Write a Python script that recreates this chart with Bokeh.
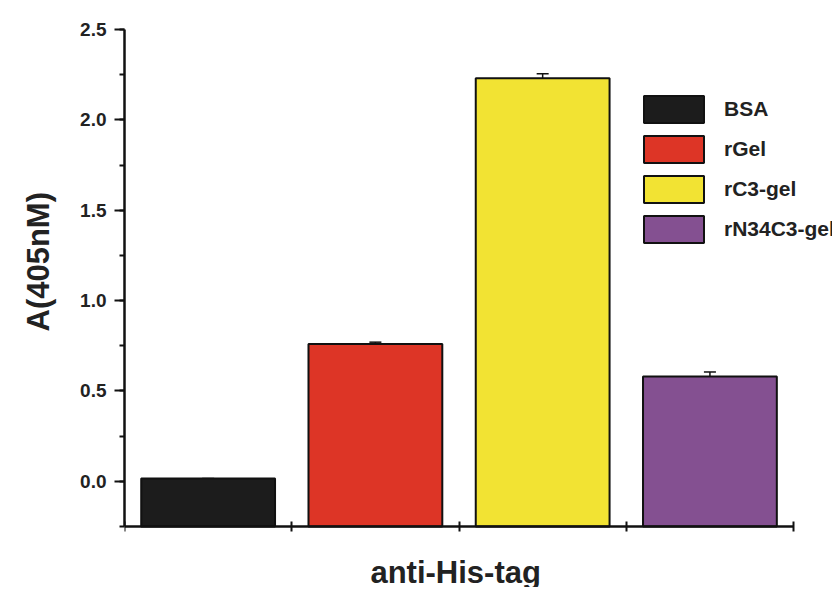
from bokeh.plotting import figure
from bokeh.models import (ColumnDataSource, Range1d, FixedTicker, SingleIntervalTicker,
                          Whisker, TeeHead, Legend, LegendItem, Title, Label,
                          NumeralTickFormatter)
from bokeh.embed import file_html
from bokeh.resources import INLINE

# ---- data ----
categories = ["BSA", "rGel", "rC3-gel", "rN34C3-gel"]
positions = [1, 2, 3, 4]
values = [0.015, 0.76, 2.23, 0.58]
errors = [0.0, 0.01, 0.025, 0.025]
colors = ["#1c1c1c", "#dd3526", "#f2e333", "#845091"]
x_bounds = (0.5, 4.5)
y_bounds = (-0.25, 2.5)
x_label = "anti-His-tag"
y_label = "A(405nM)"

FONT = "Liberation Sans"

src = ColumnDataSource(dict(
    x=positions, top=values,
    upper=[v + e for v, e in zip(values, errors)],
    lower=values,
))

# ---- layout (pixels) ----
W, H = 832, 587
LEFT, TOP = 123, 29
AX_W, AX_BOTTOM = 670, 526          # x axis length, y pixel of the x axis line
px_x = AX_W / (x_bounds[1] - x_bounds[0])
px_y = (AX_BOTTOM - TOP) / (y_bounds[1] - y_bounds[0])
x_end = x_bounds[1] + (W - LEFT - AX_W) / px_x
y_start = y_bounds[0] - (H - AX_BOTTOM) / px_y

p = figure(width=W, height=H, output_backend="svg", toolbar_location=None,
           x_axis_location="above",
           x_range=Range1d(x_bounds[0], x_end), y_range=Range1d(y_start, y_bounds[1]),
           min_border_left=LEFT, min_border_right=0, min_border_top=TOP,
           min_border_bottom=0)
p.outline_line_color = None
p.grid.visible = False
p.background_fill_color = "white"
p.border_fill_color = "white"

renderers = []
for i in range(len(categories)):
    r = p.vbar(x=[positions[i]], top=[values[i]], bottom=y_bounds[0], width=0.8,
               fill_color=colors[i], line_color="#111111", line_width=2)
    renderers.append(r)

wh = Whisker(source=src, base="x", upper="upper", lower="lower",
             line_color="#111111", line_width=1.5,
             upper_head=TeeHead(size=12, line_color="#111111", line_width=1.5),
             lower_head=None)
p.add_layout(wh)

# x axis, drawn at the bottom of the value range
xa = p.xaxis[0]
xa.fixed_location = y_bounds[0]
xa.bounds = x_bounds
xa.ticker = FixedTicker(ticks=[0.5, 1.5, 2.5, 3.5, 4.5])
xa.major_label_text_font_size = "0px"
xa.major_label_standoff = 0
xa.major_tick_in = 5
xa.major_tick_out = 5
xa.major_tick_line_width = 2
xa.minor_tick_line_color = None
xa.axis_line_width = 2.5
xa.axis_line_color = "#111111"
xa.major_tick_line_color = "#111111"

# y axis
ya = p.yaxis[0]
ya.bounds = y_bounds
ya.ticker = SingleIntervalTicker(interval=0.5, num_minor_ticks=2)
ya.formatter = NumeralTickFormatter(format="0.0")
ya.major_label_text_font = FONT
ya.major_label_text_font_style = "bold"
ya.major_label_text_font_size = "19px"
ya.major_label_text_color = "#222222"
ya.major_label_standoff = 8
ya.major_tick_in = 0
ya.major_tick_out = 10
ya.minor_tick_in = 0
ya.minor_tick_out = 5
ya.major_tick_line_width = 2
ya.minor_tick_line_width = 2
ya.axis_line_width = 2.5
ya.axis_line_color = "#111111"
ya.major_tick_line_color = "#111111"
ya.minor_tick_line_color = "#111111"

# axis titles
p.add_layout(Title(text=y_label, align="left", offset=256, vertical_align="top",
                   standoff=40, text_font=FONT, text_font_style="bold",
                   text_font_size="31px", text_color="#222222"), "left")
p.add_layout(Label(x=sum(x_bounds) / 2 - 0.02, y=y_bounds[0], y_offset=-46, text=x_label,
                   text_align="center", text_baseline="alphabetic",
                   text_font=FONT, text_font_style="bold", text_font_size="31px",
                   text_color="#222222"))

legend = Legend(items=[LegendItem(label=c, renderers=[r]) for c, r in zip(categories, renderers)],
                location=(512, 341), padding=0, margin=0, spacing=6,
                glyph_width=75, glyph_height=34, label_standoff=13,
                label_text_font=FONT, label_text_font_style="bold",
                label_text_font_size="21px", label_text_color="#222222",
                border_line_color=None, background_fill_alpha=0)
p.add_layout(legend)

open("out.html", "w").write(file_html(p, INLINE))
